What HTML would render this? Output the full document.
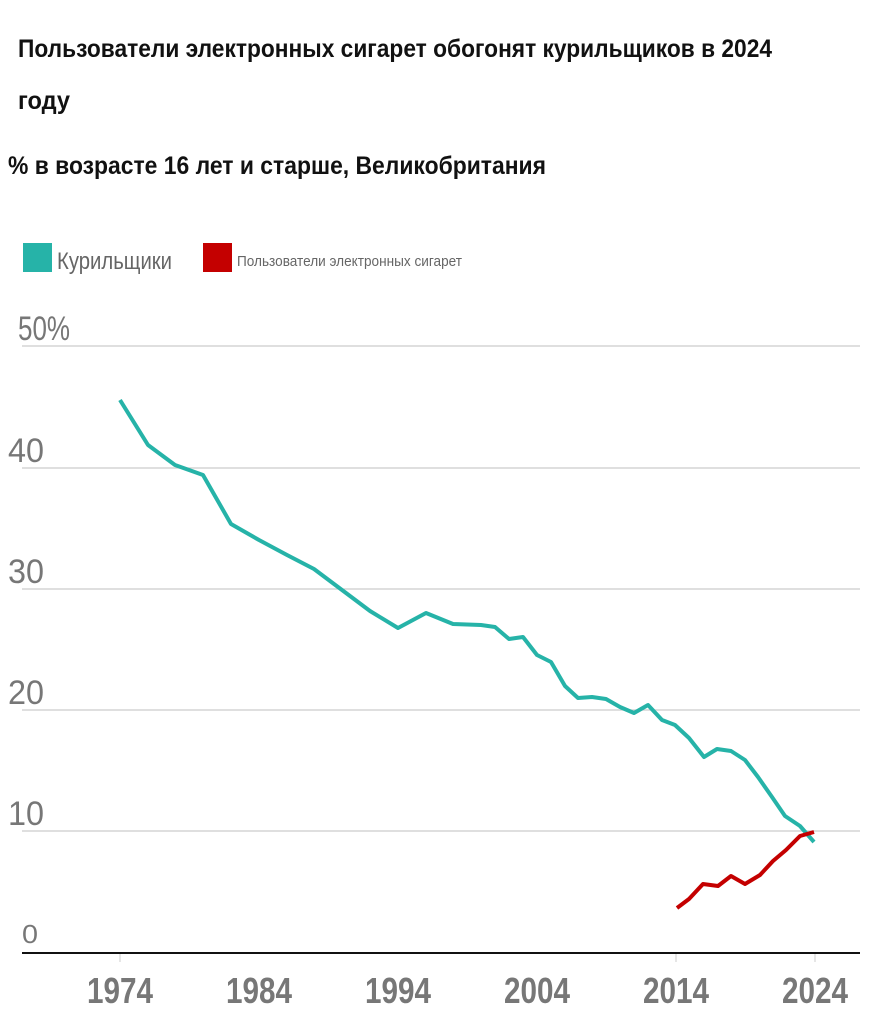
<!DOCTYPE html>
<html><head><meta charset="utf-8"><style>
body{margin:0;background:#fff;width:882px;height:1024px;overflow:hidden}
</style></head><body>
<svg width="882" height="1024" xmlns="http://www.w3.org/2000/svg" font-family="'Liberation Sans Narrow','Liberation Sans',sans-serif">
<text x="18" y="57" font-size="25" font-weight="bold" fill="#111" textLength="754" lengthAdjust="spacingAndGlyphs">Пользователи электронных сигарет обогонят курильщиков в 2024</text>
<text x="18" y="109" font-size="25" font-weight="bold" fill="#111" textLength="52" lengthAdjust="spacingAndGlyphs">году</text>
<text x="8" y="174" font-size="25" font-weight="bold" fill="#111" textLength="538" lengthAdjust="spacingAndGlyphs">% в возрасте 16 лет и старше, Великобритания</text>
<rect x="23" y="243" width="29" height="29" fill="#26b3a8"/>
<text x="57" y="269" font-size="24" fill="#666" textLength="115" lengthAdjust="spacingAndGlyphs">Курильщики</text>
<rect x="203" y="243" width="29" height="29" fill="#c40000"/>
<text x="237" y="266" font-size="15" fill="#666" textLength="225" lengthAdjust="spacingAndGlyphs">Пользователи электронных сигарет</text>
<g stroke="#ccc" stroke-width="1.2">
<line x1="22" y1="346" x2="860" y2="346"/><line x1="22" y1="468" x2="860" y2="468"/>
<line x1="22" y1="589" x2="860" y2="589"/><line x1="22" y1="710" x2="860" y2="710"/>
<line x1="22" y1="831" x2="860" y2="831"/>
</g>
<line x1="22" y1="953" x2="860" y2="953" stroke="#111" stroke-width="2"/>
<g font-size="34" fill="#777" lengthAdjust="spacingAndGlyphs">
<text x="18" y="340" textLength="52" lengthAdjust="spacingAndGlyphs">50%</text>
<text x="8" y="462" textLength="36" lengthAdjust="spacingAndGlyphs">40</text>
<text x="8" y="583" textLength="36" lengthAdjust="spacingAndGlyphs">30</text>
<text x="8" y="704" textLength="36" lengthAdjust="spacingAndGlyphs">20</text>
<text x="8" y="825" textLength="36" lengthAdjust="spacingAndGlyphs">10</text>
<text x="22" y="943" font-size="26" textLength="16" lengthAdjust="spacingAndGlyphs">0</text>
</g>
<g font-size="36" fill="#777" font-weight="bold">
<text x="87" y="1003" textLength="66" lengthAdjust="spacingAndGlyphs">1974</text>
<text x="226" y="1003" textLength="66" lengthAdjust="spacingAndGlyphs">1984</text>
<text x="365" y="1003" textLength="66" lengthAdjust="spacingAndGlyphs">1994</text>
<text x="504" y="1003" textLength="66" lengthAdjust="spacingAndGlyphs">2004</text>
<text x="643" y="1003" textLength="66" lengthAdjust="spacingAndGlyphs">2014</text>
<text x="782" y="1003" textLength="66" lengthAdjust="spacingAndGlyphs">2024</text>
</g>
<g stroke="#ccc" stroke-width="1"><line x1="120" y1="954" x2="120" y2="962"/><line x1="676" y1="954" x2="676" y2="962"/><line x1="815" y1="954" x2="815" y2="962"/></g>
<polyline fill="none" stroke="#26b3a8" stroke-width="4" stroke-linejoin="round" points="120,400 148,445 175,465 203,475 231,524 259,540 287,555 314,569 342,590 370,611 398,628 426,613 453,624 481,625 495,627 509,639 523,637 537,655 551,662 565,686 578,698 592,697 606,699 620,707 634,713 648,705 662,720 675,725 689,738 704,757 717,749 731,751 745,760 758,777 772,797 785,816 800,826 814,842"/>
<polyline fill="none" stroke="#c40000" stroke-width="4" stroke-linejoin="round" points="677,908 689,899 703,884 718,886 731,876 745,884 760,875 773,861 786,850 800,836 814,832"/>
</svg>
</body></html>
